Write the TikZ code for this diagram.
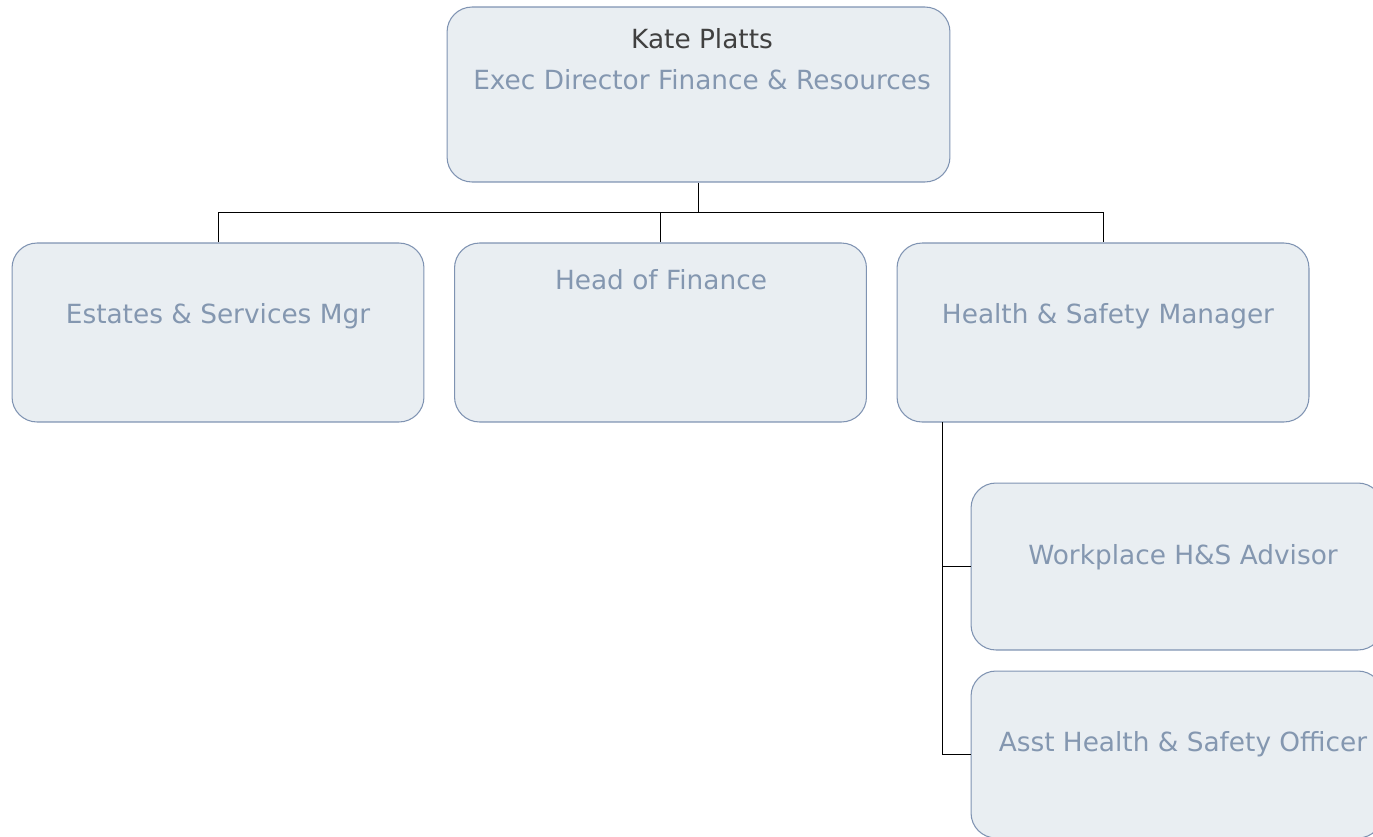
\documentclass[tikz,border=0pt]{standalone}
\usepackage{fontspec}
\setmainfont{DejaVu Sans}
\usetikzlibrary{positioning}
\definecolor{boxfill}{HTML}{E9EEF2}
\definecolor{boxline}{HTML}{7F93B2}
\definecolor{roletext}{HTML}{8497B0}
\definecolor{nametext}{HTML}{404040}

\begin{document}
\begin{tikzpicture}[x=0.02cm, y=-0.02cm,
    orgbox/.style={draw=boxline, fill=boxfill, rounded corners=0.5cm, line width=0.6pt,
      minimum width=8.24cm, minimum height=3.58cm, inner sep=0pt},
    role/.style={text=roletext, font=\fontsize{15}{18}\selectfont, inner sep=0pt, anchor=base},
    who/.style={text=nametext, font=\fontsize{15}{18}\selectfont, inner sep=0pt, anchor=base},
    link/.style={line width=0.5pt}]
    \useasboundingbox (0,0) rectangle (1373,836);
    \clip (0,0) rectangle (1373,836);

    % Director
    \node[orgbox, minimum width=10.06cm, minimum height=3.5cm] (kate) at (698.5,94.5) {};
    \node[who] (kateName) at (702,48) {Kate Platts};
    \node[role] (kateRole) at (702,89) {Exec Director Finance \& Resources};

    % Direct reports
    \node[orgbox] (estates) at (218,332.5) {};
    \node[role] (estatesRole) at (218,323) {Estates \& Services Mgr};

    \node[orgbox] (finance) at (660.5,332.5) {};
    \node[role] (financeRole) at (661,289) {Head of Finance};

    \node[orgbox] (hsm) at (1103,332.5) {};
    \node[role] (hsmRole) at (1108,323) {Health \& Safety Manager};

    % H&S team
    \node[orgbox, minimum height=3.34cm] (advisor) at (1177,566.5) {};
    \node[role] (advisorRole) at (1183,564) {Workplace H\&S Advisor};

    \node[orgbox, minimum height=3.34cm] (officer) at (1177,754.5) {};
    \node[role] (officerRole) at (1183,751) {Asst Health \& Safety Officer};

    % Connectors
    \coordinate (bus) at (698.5,212);
    \draw[link] (kate.south) -- (bus);
    \draw[link] (estates.north) -- (estates.north |- bus) -- (hsm.north |- bus) -- (hsm.north);
    \draw[link] (finance.north) -- (finance.north |- bus);

    \coordinate (spine) at (942,422);
    \draw[link] (spine) |- (advisor.west);
    \draw[link] (spine) |- (officer.west);
\end{tikzpicture}
\end{document}
